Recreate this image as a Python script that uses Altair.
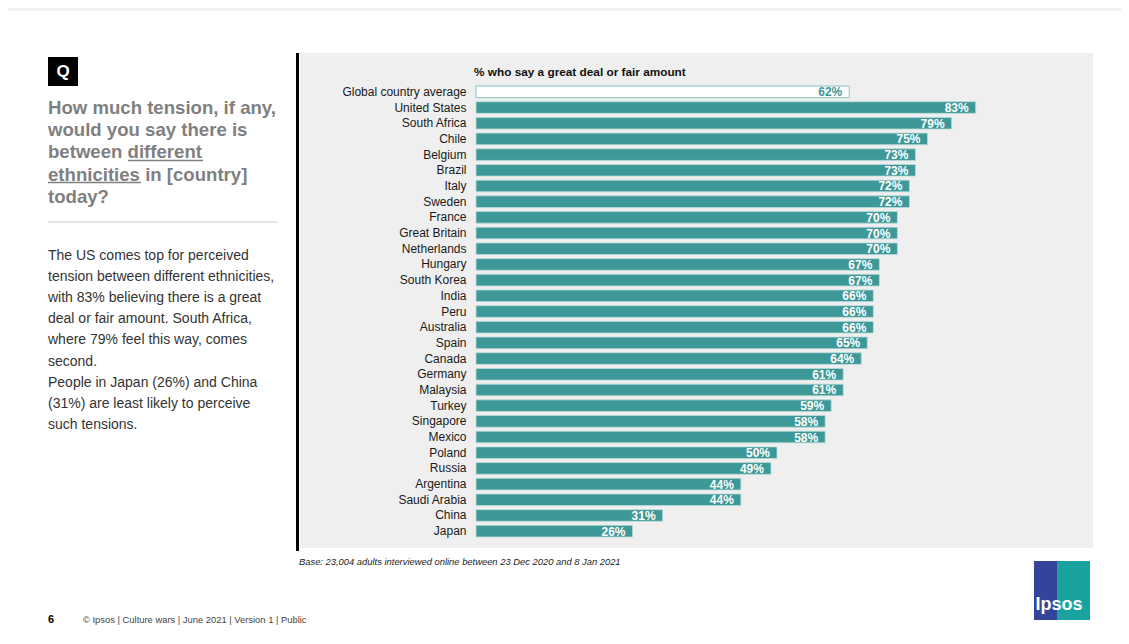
import altair as alt
import pandas as pd

countries = ["Global country average", "United States", "South Africa", "Chile", "Belgium",
             "Brazil", "Italy", "Sweden", "France", "Great Britain", "Netherlands", "Hungary",
             "South Korea", "India", "Peru", "Australia", "Spain", "Canada", "Germany",
             "Malaysia", "Turkey", "Singapore", "Mexico", "Poland", "Russia", "Argentina",
             "Saudi Arabia", "China", "Japan"]
values = [62, 83, 79, 75, 73, 73, 72, 72, 70, 70, 70, 67, 67, 66, 66, 66, 65, 64, 61, 61,
          59, 58, 58, 50, 49, 44, 44, 31, 26]
is_average = [True] + [False] * 28

chart_title = "% who say a great deal or fair amount"
question_lines = ["How much tension, if any,", "would you say there is",
                  "between different", "ethnicities in [country]", "today?"]
body_lines = ["The US comes top for perceived", "tension between different ethnicities,",
              "with 83% believing there is a great", "deal or fair amount. South Africa,",
              "where 79% feel this way, comes", "second.",
              "People in Japan (26%) and China", "(31%) are least likely to perceive",
              "such tensions."]
base_note = "Base: 23,004 adults interviewed online between 23 Dec 2020 and 8 Jan 2021"
footer_page = "6"
footer_text = "\u00a9 Ipsos | Culture wars | June 2021 | Version 1 | Public"

df = pd.DataFrame({"country": countries, "value": values, "avg": is_average})
df["label"] = df["value"].astype(str) + "%"

TEAL = "#3e9897"
FONT = "Liberation Sans"
one = pd.DataFrame({"a": [0]})

base = alt.Chart(df)
y_enc = alt.Y("country:N", sort=countries,
              scale=alt.Scale(paddingInner=0.26, paddingOuter=0.13),
              axis=alt.Axis(title=None, labelFont=FONT, labelFontSize=12, labelColor="#1a1a1a",
                            labelPadding=10, ticks=False, domain=False, grid=False, zindex=2))
x_enc = alt.X("value:Q", scale=alt.Scale(domain=[0, 100]), axis=None)


def deco():
    return alt.Chart(one)


frame_top = deco().mark_rect(color="#f2f2f2").encode(
    x=alt.value(-468), x2=alt.value(645), y=alt.value(-76), y2=alt.value(-73))
panel = deco().mark_rect(color="#efefef").encode(
    x=alt.value(-176), x2=alt.value(617), y=alt.value(-31), y2=alt.value(464))
vline = deco().mark_rule(color="#000000", strokeWidth=3).encode(
    x=alt.value(-178.5), y=alt.value(-31), y2=alt.value(467))
title_t = deco().mark_text(text=chart_title, font=FONT, fontSize=11.8, fontWeight="bold",
                           color="#111111", align="left", baseline="alphabetic").encode(
    x=alt.value(-2), y=alt.value(-8))

q_box = deco().mark_rect(color="#000000").encode(
    x=alt.value(-428), x2=alt.value(-398), y=alt.value(-27), y2=alt.value(2))
q_text = deco().mark_text(text="Q", font=FONT, fontSize=17, fontWeight="bold", color="white",
                          align="center", baseline="middle").encode(
    x=alt.value(-413), y=alt.value(-12))
question = deco().mark_text(text="\n".join(question_lines), lineBreak="\n", lineHeight=22.2,
                            font=FONT, fontSize=18.6, fontWeight="bold", color="#7f7f7f",
                            align="left", baseline="alphabetic").encode(
    x=alt.value(-428), y=alt.value(30))
ul1 = deco().mark_rule(color="#7f7f7f", strokeWidth=1.5).encode(
    x=alt.value(-348), x2=alt.value(-273), y=alt.value(76.5))
ul2 = deco().mark_rule(color="#7f7f7f", strokeWidth=1.5).encode(
    x=alt.value(-428), x2=alt.value(-335), y=alt.value(98.5))
divider = deco().mark_rule(color="#c8c8c8", strokeWidth=1).encode(
    x=alt.value(-428), x2=alt.value(-198), y=alt.value(138))
body = deco().mark_text(text="\n".join(body_lines), lineBreak="\n", lineHeight=21.1,
                        font=FONT, fontSize=14, color="#333333",
                        align="left", baseline="alphabetic").encode(
    x=alt.value(-428), y=alt.value(176))
base_t = deco().mark_text(text=base_note, font=FONT, fontSize=9.4, fontStyle="italic",
                          color="#222222", align="left", baseline="middle").encode(
    x=alt.value(-177), y=alt.value(478))
foot6 = deco().mark_text(text=footer_page, font=FONT, fontSize=11, fontWeight="bold",
                         color="#000000", align="left", baseline="middle").encode(
    x=alt.value(-428), y=alt.value(536))
foot_t = deco().mark_text(text=footer_text, font=FONT, fontSize=9.4, color="#444444",
                          align="left", baseline="middle").encode(
    x=alt.value(-393), y=alt.value(536))
logo_b = deco().mark_rect(color="#34449a").encode(
    x=alt.value(558), x2=alt.value(582), y=alt.value(477), y2=alt.value(536))
logo_t = deco().mark_rect(color="#1aa39e").encode(
    x=alt.value(581), x2=alt.value(614), y=alt.value(477), y2=alt.value(536))
logo_txt = deco().mark_text(text="Ipsos", font=FONT, fontSize=18, fontWeight="bold",
                            color="white", align="center", baseline="alphabetic").encode(
    x=alt.value(583), y=alt.value(526))

bars = base.transform_filter("!datum.avg").mark_bar(color=TEAL, stroke="#b9dcdb",
                                                   strokeWidth=0.8).encode(x=x_enc, y=y_enc)
avg_bar = base.transform_filter("datum.avg").mark_bar(fill="white", stroke="#8cc4c3",
                                                      strokeWidth=1).encode(x=x_enc, y=y_enc)
labels = base.transform_filter("!datum.avg").mark_text(
    align="right", baseline="middle", dx=-7, dy=0.5, font=FONT, fontSize=12,
    fontWeight="bold", color="white").encode(x=x_enc, y=y_enc, text="label:N")
avg_label = base.transform_filter("datum.avg").mark_text(
    align="right", baseline="middle", dx=-7, dy=0.5, font=FONT, fontSize=12,
    fontWeight="bold", color=TEAL).encode(x=x_enc, y=y_enc, text="label:N")

chart = alt.layer(
    frame_top, panel, vline, title_t, q_box, q_text, question, ul1, ul2, divider, body,
    base_t, foot6, foot_t, logo_b, logo_t, logo_txt,
    bars, avg_bar, labels, avg_label
).properties(
    width=602, height=455,
    autosize=alt.AutoSizeParams(type="none"),
    padding={"left": 468, "top": 76, "right": 43, "bottom": 89},
    background="white"
).configure_view(stroke=None)

chart.save("out.html", embed_options={"renderer": "svg", "actions": False})
